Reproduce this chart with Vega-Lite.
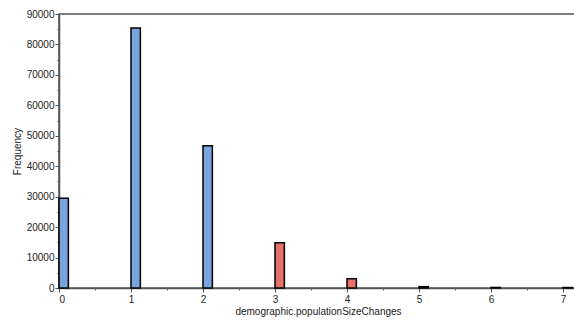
{
  "$schema": "https://vega.github.io/schema/vega-lite/v6.json",
  "width": 518,
  "height": 274,
  "autosize": "none",
  "padding": {"left": 59, "top": 14, "right": 0, "bottom": 32},
  "background": "white",
  "config": {
    "view": {"stroke": "#555555", "strokeWidth": 1.5},
    "font": "Liberation Sans"
  },
  "data": {
    "values": [
      {"changes": 0, "changes_end": 0.13, "count": 29500, "group": "low"},
      {"changes": 1, "changes_end": 1.13, "count": 85400, "group": "low"},
      {"changes": 2, "changes_end": 2.13, "count": 46700, "group": "low"},
      {"changes": 3, "changes_end": 3.13, "count": 14900, "group": "high"},
      {"changes": 4, "changes_end": 4.13, "count": 3050, "group": "high"},
      {"changes": 5, "changes_end": 5.13, "count": 450, "group": "high"},
      {"changes": 6, "changes_end": 6.13, "count": 180, "group": "high"},
      {"changes": 7, "changes_end": 7.13, "count": 150, "group": "high"}
    ]
  },
  "mark": {"type": "bar", "stroke": "#000000", "strokeWidth": 1.5},
  "encoding": {
    "x": {
      "field": "changes",
      "type": "quantitative",
      "scale": {"domain": [0, 7.1944], "nice": false, "zero": false},
      "axis": {
        "title": "demographic.populationSizeChanges",
        "values": [0, 0.5, 1, 1.5, 2, 2.5, 3, 3.5, 4, 4.5, 5, 5.5, 6, 6.5, 7],
        "labelExpr": "datum.value % 1 == 0 ? '' + datum.value : ''",
        "tickSize": {"condition": {"test": "datum.value % 1 == 0", "value": 4}, "value": 2},
        "tickColor": "#555555",
        "domainColor": "#555555",
        "domainWidth": 1.5,
        "labelFontSize": 10,
        "labelColor": "#222222",
        "labelPadding": 2,
        "titleFontSize": 10,
        "titleFontWeight": "normal",
        "titleColor": "#222222",
        "titlePadding": 2,
        "grid": false
      }
    },
    "x2": {"field": "changes_end"},
    "y": {
      "field": "count",
      "type": "quantitative",
      "scale": {"domain": [0, 90000], "nice": false},
      "axis": {
        "title": "Frequency",
        "values": [0, 5000, 10000, 15000, 20000, 25000, 30000, 35000, 40000, 45000, 50000, 55000, 60000, 65000, 70000, 75000, 80000, 85000, 90000],
        "labelExpr": "datum.value % 10000 == 0 ? '' + datum.value : ''",
        "tickSize": {"condition": {"test": "datum.value % 10000 == 0", "value": 4}, "value": 2},
        "tickColor": "#555555",
        "domainColor": "#555555",
        "domainWidth": 1.5,
        "labelFontSize": 10,
        "labelColor": "#222222",
        "labelPadding": 1,
        "titleFontSize": 10,
        "titleFontWeight": "normal",
        "titleColor": "#222222",
        "titlePadding": 4,
        "grid": false
      }
    },
    "y2": {"datum": 0},
    "color": {
      "field": "group",
      "type": "nominal",
      "scale": {"domain": ["low", "high"], "range": ["#79a5dd", "#e6716b"]},
      "legend": null
    }
  }
}
